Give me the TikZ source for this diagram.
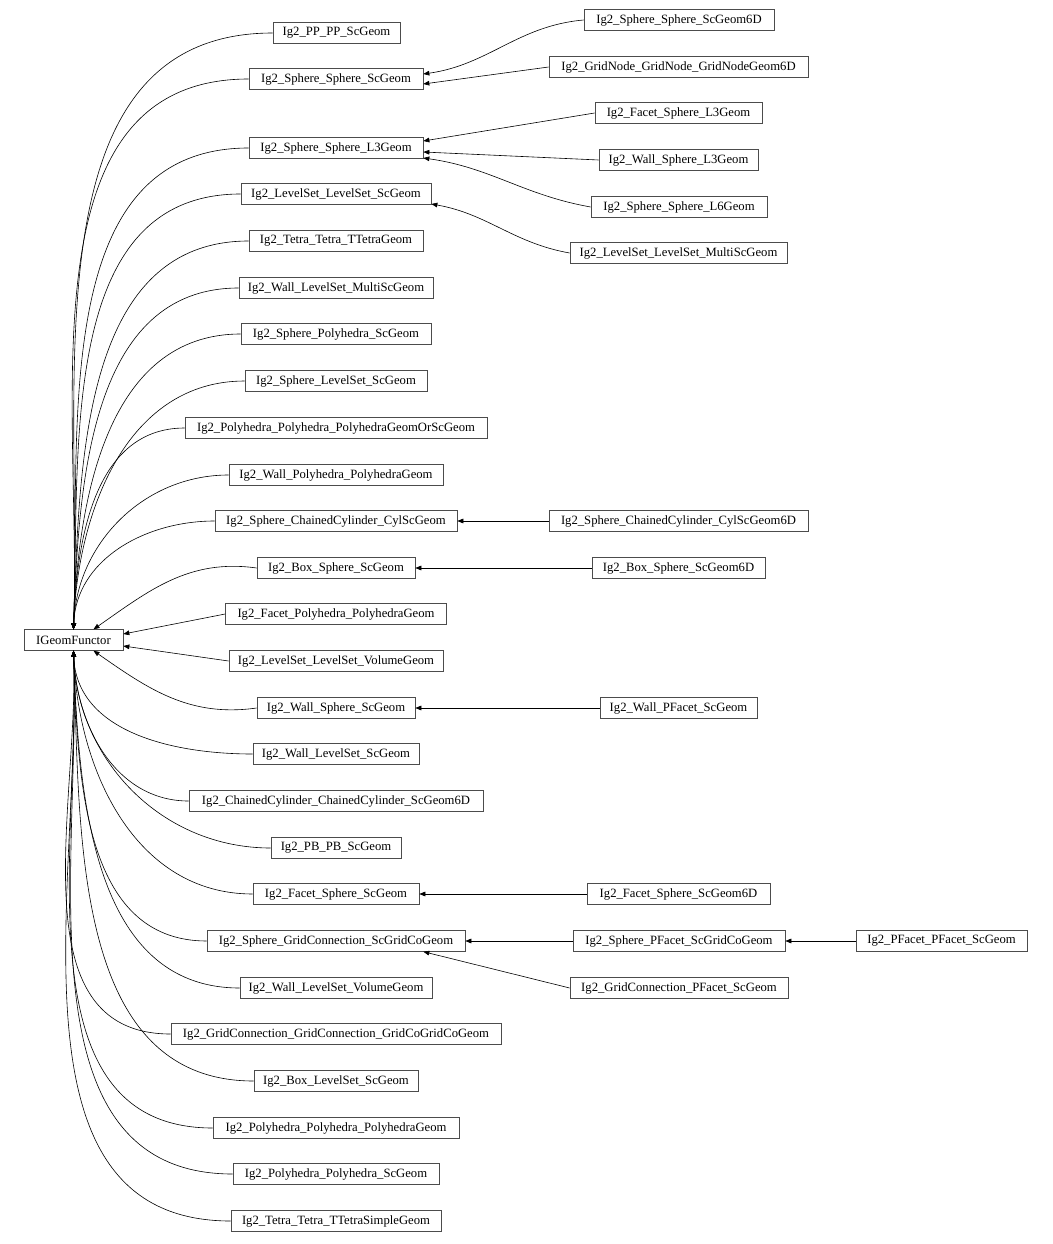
\documentclass[tikz,border=0pt]{standalone}
\usepackage{fontspec}
\setmainfont{Liberation Serif}
\usetikzlibrary{arrows.meta,calc}
\begin{document}
\begin{tikzpicture}[x=0.75pt,y=-0.75pt,
  box/.style={draw=black!70,line width=0.5pt,minimum height=15.5pt,inner sep=0pt,font=\fontsize{9.5}{11}\selectfont},
  edge/.style={-{Triangle[length=4.5pt,width=3.5pt]},line width=0.45pt}]
\useasboundingbox (0,0) rectangle (1052,1244);
\newcommand\nd[5]{\node[box,minimum width=#4*0.75pt] (#1) at (#2,#3) {#5};}
\nd{IG}{73.5}{640}{99}{IGeomFunctor}
% column 1
\nd{a1}{336.5}{33}{127}{Ig2\_PP\_PP\_ScGeom}
\nd{a2}{336}{79}{174}{Ig2\_Sphere\_Sphere\_ScGeom}
\nd{a3}{336}{148}{174}{Ig2\_Sphere\_Sphere\_L3Geom}
\nd{a4}{336}{194}{190}{Ig2\_LevelSet\_LevelSet\_ScGeom}
\nd{a5}{336}{241}{174}{Ig2\_Tetra\_Tetra\_TTetraGeom}
\nd{a6}{336}{288}{194}{Ig2\_Wall\_LevelSet\_MultiScGeom}
\nd{a7}{336}{334}{190}{Ig2\_Sphere\_Polyhedra\_ScGeom}
\nd{a8}{336}{381}{182}{Ig2\_Sphere\_LevelSet\_ScGeom}
\nd{a9}{336}{428}{302}{Ig2\_Polyhedra\_Polyhedra\_PolyhedraGeomOrScGeom}
\nd{a10}{336}{475}{214}{Ig2\_Wall\_Polyhedra\_PolyhedraGeom}
\nd{a11}{336}{521}{242}{Ig2\_Sphere\_ChainedCylinder\_CylScGeom}
\nd{a12}{336}{568}{158}{Ig2\_Box\_Sphere\_ScGeom}
\nd{a13}{336}{614}{221}{Ig2\_Facet\_Polyhedra\_PolyhedraGeom}
\nd{a14}{336}{661}{214}{Ig2\_LevelSet\_LevelSet\_VolumeGeom}
\nd{a15}{336}{708}{158}{Ig2\_Wall\_Sphere\_ScGeom}
\nd{a16}{336}{754}{166}{Ig2\_Wall\_LevelSet\_ScGeom}
\nd{a17}{336}{801}{294}{Ig2\_ChainedCylinder\_ChainedCylinder\_ScGeom6D}
\nd{a18}{336}{848}{130}{Ig2\_PB\_PB\_ScGeom}
\nd{a19}{336}{894}{166}{Ig2\_Facet\_Sphere\_ScGeom}
\nd{a20}{336}{941}{258}{Ig2\_Sphere\_GridConnection\_ScGridCoGeom}
\nd{a21}{336}{988}{192}{Ig2\_Wall\_LevelSet\_VolumeGeom}
\nd{a22}{336}{1034}{330}{Ig2\_GridConnection\_GridConnection\_GridCoGridCoGeom}
\nd{a23}{336}{1081}{164}{Ig2\_Box\_LevelSet\_ScGeom}
\nd{a24}{336}{1128}{246}{Ig2\_Polyhedra\_Polyhedra\_PolyhedraGeom}
\nd{a25}{336}{1174}{206}{Ig2\_Polyhedra\_Polyhedra\_ScGeom}
\nd{a26}{336}{1221}{210}{Ig2\_Tetra\_Tetra\_TTetraSimpleGeom}
% column 2
\nd{b1}{679}{20}{190}{Ig2\_Sphere\_Sphere\_ScGeom6D}
\nd{b2}{678.5}{67}{259}{Ig2\_GridNode\_GridNode\_GridNodeGeom6D}
\nd{b3}{678.5}{113}{167}{Ig2\_Facet\_Sphere\_L3Geom}
\nd{b4}{678.5}{160}{159}{Ig2\_Wall\_Sphere\_L3Geom}
\nd{b5}{679}{207}{176}{Ig2\_Sphere\_Sphere\_L6Geom}
\nd{b6}{678.5}{253}{217}{Ig2\_LevelSet\_LevelSet\_MultiScGeom}
\nd{b7}{678.5}{521}{259}{Ig2\_Sphere\_ChainedCylinder\_CylScGeom6D}
\nd{b8}{678.5}{568}{173}{Ig2\_Box\_Sphere\_ScGeom6D}
\nd{b9}{678.5}{708}{157}{Ig2\_Wall\_PFacet\_ScGeom}
\nd{b10}{678.5}{894}{183}{Ig2\_Facet\_Sphere\_ScGeom6D}
\nd{b11}{679}{941}{212}{Ig2\_Sphere\_PFacet\_ScGridCoGeom}
\nd{b12}{679}{988}{218}{Ig2\_GridConnection\_PFacet\_ScGeom}
\nd{c1}{941.5}{941}{171}{Ig2\_PFacet\_PFacet\_ScGeom}
% edges to IGeomFunctor (top)
\foreach \n in {a1,a2,a3,a4,a5,a6,a7,a8,a9,a10,a11}
  \draw[edge] (\n.west) to[out=180,in=88] (IG.north);
\draw[edge] (a12.west) to[out=172,in=35] ($(IG.north)+(20,0)$);
\draw[edge] (a13.west) -- ($(IG.east)+(0,-6)$);
\draw[edge] (a14.west) -- ($(IG.east)+(0,6)$);
\draw[edge] (a15.west) to[out=188,in=-35] ($(IG.south)+(20,0)$);
\foreach \n in {a16,a17,a18,a19,a20,a21,a22,a23,a24,a25,a26}
  \draw[edge] (\n.west) to[out=180,in=-88] (IG.south);
% column 2 edges
\draw[edge] (b1.west) to[out=185,in=8] ($(a2.east)+(0,-5)$);
\draw[edge] (b2.west) -- ($(a2.east)+(0,5)$);
\draw[edge] (b3.west) -- ($(a3.east)+(0,-7)$);
\draw[edge] (b4.west) -- ($(a3.east)+(0,4)$);
\draw[edge] (b5.west) to[out=170,in=-8] ($(a3.east)+(0,10)$);
\draw[edge] (b6.west) to[out=170,in=-10] ($(a4.east)+(0,10)$);
\draw[edge] (b7.west) -- (a11.east);
\draw[edge] (b8.west) -- (a12.east);
\draw[edge] (b9.west) -- (a15.east);
\draw[edge] (b10.west) -- (a19.east);
\draw[edge] (b11.west) -- (a20.east);
\draw[edge] (b12.west) -- ($(a20.south east)+(-42,0)$);
\draw[edge] (c1.west) -- (b11.east);
\end{tikzpicture}
\end{document}
